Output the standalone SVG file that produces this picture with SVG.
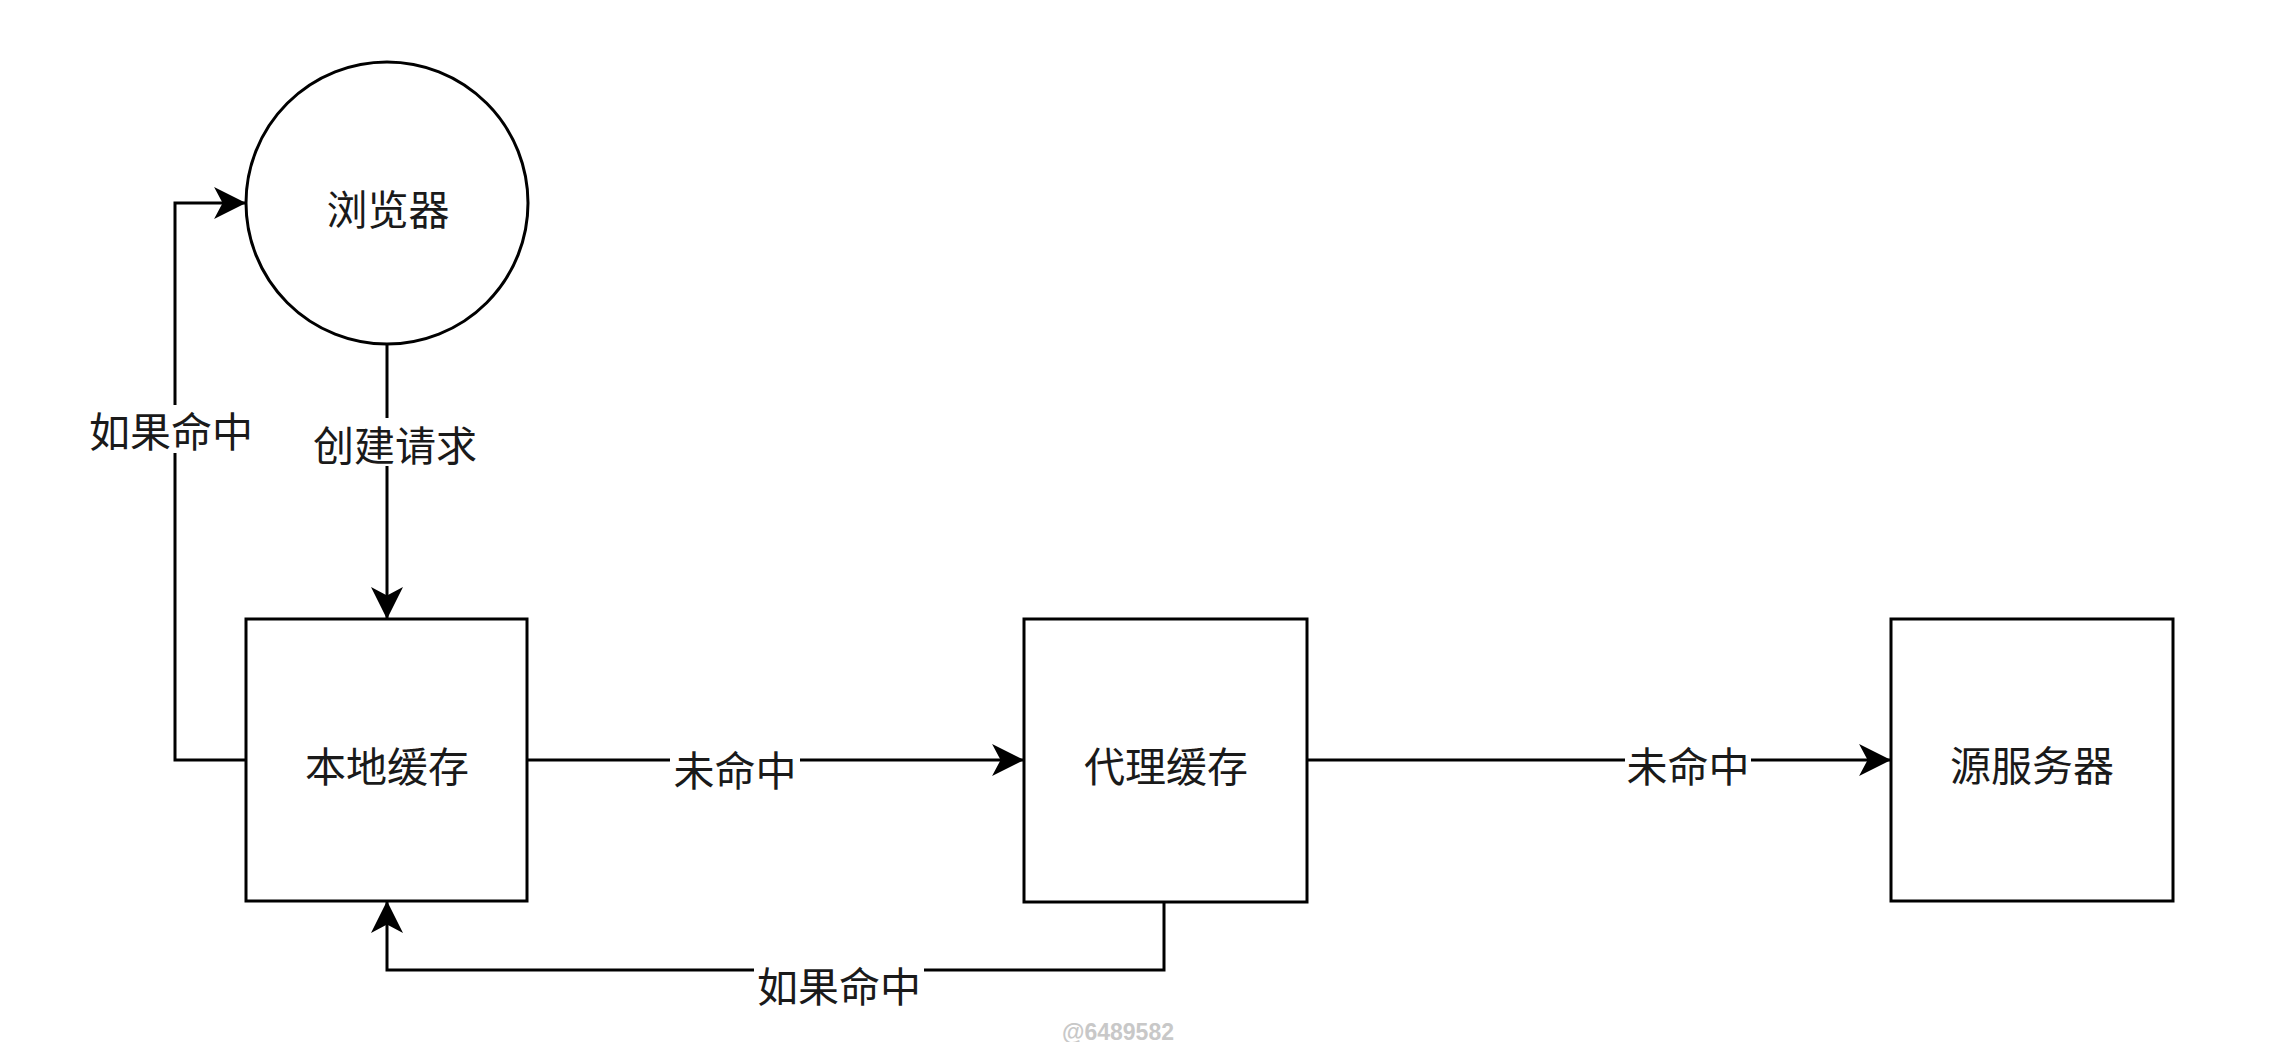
<svg xmlns="http://www.w3.org/2000/svg" width="2270" height="1042" viewBox="0 0 2270 1042">
  <style>
    .shape { fill: #ffffff; stroke: #000000; stroke-width: 3; }
    .edge { fill: none; stroke: #000000; stroke-width: 3; }
    .txt { font-family: "Microsoft YaHei", "Noto Sans CJK SC", "Noto Sans", sans-serif; font-size: 41px; fill: #1a1a1a; text-anchor: middle; dominant-baseline: central; }
    .lblbg { fill: #ffffff; stroke: none; }
    .wm { font-family: "Liberation Sans", Arial, sans-serif; font-size: 23px; font-weight: bold; fill: #c8c8c8; text-anchor: middle; }
  </style>
  <defs>
    <marker id="arrow" markerUnits="userSpaceOnUse" markerWidth="32" markerHeight="32" viewBox="0 0 30 30" refX="29" refY="15" orient="auto">
      <path d="M0,0 L30,15 L0,30 L8,15 Z" fill="#000000"/>
    </marker>
  </defs>
  <rect x="0" y="0" width="2270" height="1042" fill="#ffffff"/>

  <g id="edges">
    <g id="edge-create">
      <path class="edge" d="M387,344 V618" marker-end="url(#arrow)"/>
      <rect class="lblbg" x="310" y="418" width="170" height="48"/>
      <text class="txt" x="395" y="443">创建请求</text>
    </g>
    <g id="edge-local-hit">
      <path class="edge" d="M246,760 H175 V203 H245" marker-end="url(#arrow)"/>
      <rect class="lblbg" x="86" y="405" width="170" height="48"/>
      <text class="txt" x="171" y="429">如果命中</text>
    </g>
    <g id="edge-local-miss">
      <path class="edge" d="M527,760 H1023" marker-end="url(#arrow)"/>
      <rect class="lblbg" x="670" y="744" width="130" height="48"/>
      <text class="txt" x="735" y="768">未命中</text>
    </g>
    <g id="edge-proxy-hit">
      <path class="edge" d="M1164,902 V970 H387 V902" marker-end="url(#arrow)"/>
      <rect class="lblbg" x="754" y="962" width="170" height="46"/>
      <text class="txt" x="839" y="984">如果命中</text>
    </g>
    <g id="edge-proxy-miss">
      <path class="edge" d="M1307,760 H1890" marker-end="url(#arrow)"/>
      <rect class="lblbg" x="1625" y="740" width="126" height="48"/>
      <text class="txt" x="1688" y="764">未命中</text>
    </g>
  </g>

  <g id="node-browser">
    <circle class="shape" cx="387" cy="203" r="141"/>
    <text class="txt" x="388" y="207">浏览器</text>
  </g>
  <g id="node-local-cache">
    <rect class="shape" x="246" y="619" width="281" height="282"/>
    <text class="txt" x="387" y="764">本地缓存</text>
  </g>
  <g id="node-proxy-cache">
    <rect class="shape" x="1024" y="619" width="283" height="283"/>
    <text class="txt" x="1166" y="764">代理缓存</text>
  </g>
  <g id="node-origin">
    <rect class="shape" x="1891" y="619" width="282" height="282"/>
    <text class="txt" x="2032" y="763">源服务器</text>
  </g>

  <text class="wm" x="1118" y="1040">@6489582</text>
</svg>
